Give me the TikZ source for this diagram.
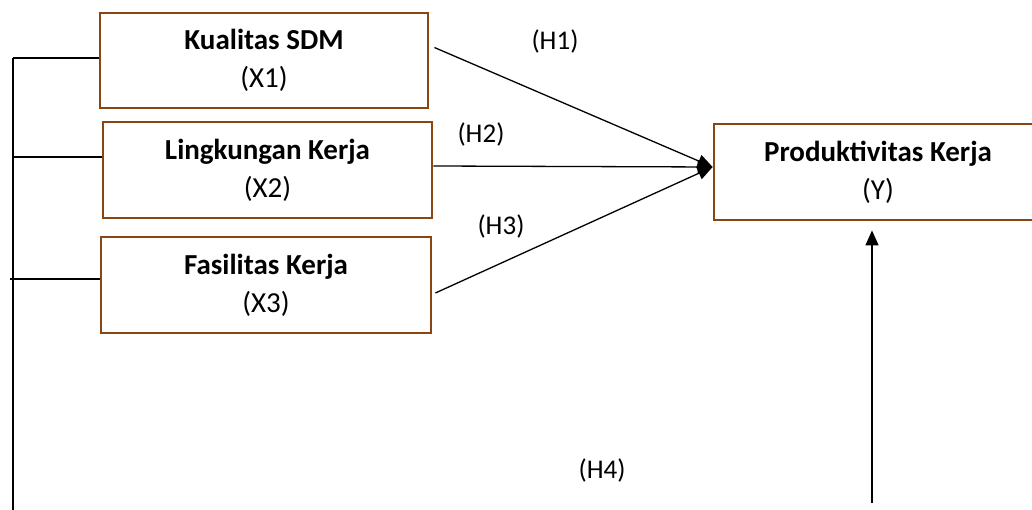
\documentclass[tikz,border=0pt]{standalone}
\usepackage{fontspec}
\setmainfont{Carlito}
\usetikzlibrary{arrows.meta}
\definecolor{boxbrown}{HTML}{8B4513}
\tikzset{
  varbox/.style={draw=boxbrown, line width=2.8pt, fill=white, align=center,
    inner sep=0pt, font=\fontsize{29}{38}\selectfont},
  conn/.style={draw=black, line width=1.3pt},
  arr/.style={conn, -{Triangle[length=15pt,width=13pt]}},
  hlabel/.style={font=\fontsize{27}{30}\selectfont, inner sep=0pt}
}
\begin{document}
\begin{tikzpicture}[x=1pt,y=-1pt]
\useasboundingbox (0,0) rectangle (1032,510);
\clip (0,0) rectangle (1032,510);
\node[varbox, minimum width=328pt, minimum height=95pt] (x1) at (264,60.5) {\textbf{Kualitas SDM}\\(X1)};
\node[varbox, minimum width=329pt, minimum height=96pt] (x2) at (267.5,170) {\textbf{Lingkungan Kerja}\\(X2)};
\node[varbox, minimum width=330pt, minimum height=96pt] (x3) at (266,285) {\textbf{Fasilitas Kerja}\\(X3)};
\node[varbox, minimum width=328pt, minimum height=96pt] (y) at (878,172) {\textbf{Produktivitas Kerja}\\(Y)};
\node[hlabel] (h1) at (555,42) {(H1)};
\node[hlabel] (h2) at (481,135) {(H2)};
\node[hlabel] (h3) at (501,226) {(H3)};
\node[hlabel] (h4) at (602,470) {(H4)};
\coordinate (tip) at ([yshift=5pt]y.west);
\draw[arr] ([xshift=5pt,yshift=13pt]x1.east) -- (tip);
\draw[arr] ([yshift=4pt]x2.east) -- (tip);
\draw[arr] ([xshift=3pt,yshift=-8pt]x3.east) -- (tip);
\coordinate (h4b) at (872,503);
\draw[arr] (h4b) -- ([xshift=-6pt,yshift=-9pt]y.south);
\coordinate (lt) at (13,58);
\coordinate (lb) at (13,512);
\draw[conn] (lt) -- (lb);
\draw[conn] (lt) -- ([yshift=2.5pt]x1.west);
\draw[conn] (13,157) -- ([yshift=13pt]x2.west);
\draw[conn] (10,279) -- ([yshift=6pt]x3.west);
\end{tikzpicture}
\end{document}
